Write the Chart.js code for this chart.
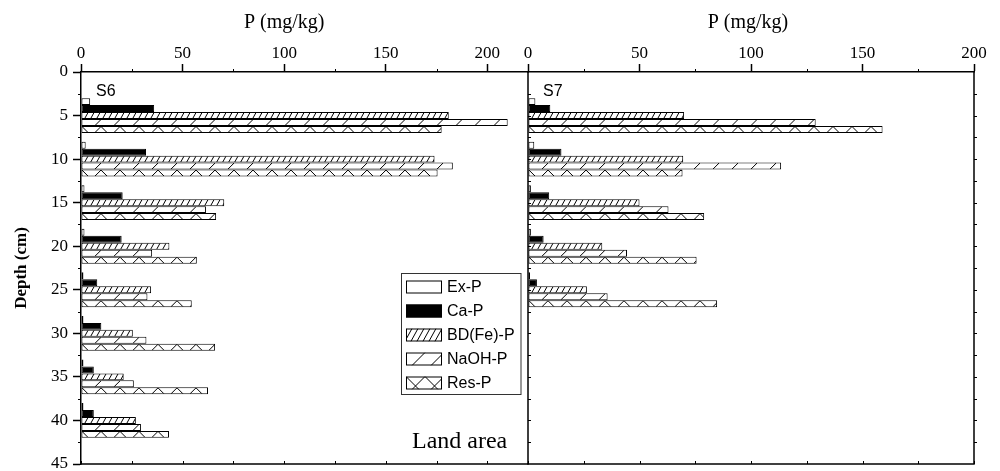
<!DOCTYPE html>
<html>
<head>
<meta charset="utf-8">
<script src="https://cdn.jsdelivr.net/npm/chart.js@4.4.0/dist/chart.umd.min.js"></script>
<style>
  html, body { margin: 0; padding: 0; background: #fff; }
  #wrap { position: relative; width: 1000px; height: 471px; background: #fff; }
  #wrap canvas { position: absolute; left: 0; top: 0; }
</style>
</head>
<body>
<div id="wrap">
  <canvas id="chartS6" width="1000" height="471"></canvas>
  <canvas id="chartS7" width="1000" height="471"></canvas>
</div>
<script>
// Phosphorus fractions (mg/kg) by sampling depth (cm), profiles S6 and S7
const fractions = ['Ex-P', 'Ca-P', 'BD(Fe)-P', 'NaOH-P', 'Res-P'];

const depthsS6 = [5, 10, 15, 20, 25, 30, 35, 40];
const s6ExP   = [4.5, 2.3, 1.7, 1.7, 1.2, 1.2, 1.2, 1.2];
const s6CaP   = [36, 32, 20.5, 20, 8, 10, 6.3, 6.3];
const s6BDFeP = [181, 174, 70.5, 43.5, 34.5, 25.5, 21, 27];
const s6NaOHP = [210, 183, 61.5, 35, 32.7, 32.2, 26, 29.5];
const s6ResP  = [177.5, 175.5, 66.5, 57, 54.5, 66, 62.5, 43.3];

const depthsS7 = [5, 10, 15, 20, 25];
const s7ExP   = [3.3, 2.8, 1.3, 1.3, 0.9];
const s7CaP   = [10, 15, 9.5, 7, 4];
const s7BDFeP = [70, 69.6, 50, 33.3, 26.4];
const s7NaOHP = [129, 113.5, 63, 44.4, 35.7];
const s7ResP  = [159, 69.3, 79, 75.6, 84.8];

const xTickValues = [0, 50, 100, 150, 200];
const depthTickValues = [0, 5, 10, 15, 20, 25, 30, 35, 40, 45];

const axisTitle = 'P (mg/kg)';
const depthTitle = 'Depth (cm)';
const areaNote = 'Land area';

// fill style per fraction
const fills   = ['#ffffff', '#000000', '#ffffff', '#ffffff', '#ffffff'];
const hatches = [null, null, 'dense', 'sparse', 'cross'];

const SERIF = "'Liberation Serif', 'Times New Roman', serif";
const SANS  = "'Liberation Sans', Arial, sans-serif";

function drawHatch(ctx, style, l, t, r, b) {
  const h = b - t;
  if (!style || r - l <= 0 || h <= 0) return;
  ctx.save();
  ctx.beginPath();
  ctx.rect(l, t, r - l, h);
  ctx.clip();
  ctx.strokeStyle = '#000';
  ctx.lineWidth = 1;
  ctx.beginPath();
  if (style === 'dense' || style === 'sparse') {
    const step = style === 'dense' ? 6 : 19;
    const run = style === 'dense' ? h * 0.55 : h;
    for (let sx = l - run; sx < r + step; sx += step) {
      ctx.moveTo(sx, b);
      ctx.lineTo(sx + run, t);
    }
  } else if (style === 'cross') {
    for (let ax = l; ax < r + h + 19; ax += 19) {
      ctx.moveTo(ax - h, b);
      ctx.lineTo(ax, t);
      ctx.lineTo(ax + h, b);
    }
  }
  ctx.stroke();
  ctx.restore();
}

// hatching inside the patterned bars
const hatchPlugin = {
  id: 'hatch',
  afterDatasetsDraw(chart) {
    const ctx = chart.ctx;
    chart.data.datasets.forEach((ds, di) => {
      const style = hatches[di];
      if (!style) return;
      const meta = chart.getDatasetMeta(di);
      meta.data.forEach(el => {
        const p = el.getProps(['x', 'y', 'base', 'height'], true);
        const l = Math.min(p.x, p.base) + 0.5, r = Math.max(p.x, p.base) - 0.5;
        const t = p.y - p.height / 2 + 0.5, b = p.y + p.height / 2 - 0.5;
        drawHatch(ctx, style, l, t, r, b);
      });
    });
  }
};

// axis frame, minor ticks, titles and notes
const framePlugin = {
  id: 'frame',
  afterDraw(chart, args, opts) {
    const { ctx, chartArea: a, scales: { x, y } } = chart;
    ctx.save();
    ctx.strokeStyle = '#000';
    ctx.lineCap = 'butt';

    // bottom axis line with inward ticks
    ctx.lineWidth = 1.5;
    ctx.beginPath();
    ctx.moveTo(a.left - 0.75, a.bottom);
    ctx.lineTo(a.right + 0.75, a.bottom);
    ctx.stroke();

    ctx.lineWidth = 1;
    ctx.beginPath();
    for (let v = 0; v <= x.max + 1e-6; v += 25) {
      const px = Math.round(x.getPixelForValue(v)) + 0.5;
      if (v % 50 !== 0) { ctx.moveTo(px, a.top); ctx.lineTo(px, a.top - 3); }
      ctx.moveTo(px, a.bottom); ctx.lineTo(px, a.bottom - 3);
    }
    if (opts.side === 'left') {
      for (let d = 2.5; d < 45; d += 5) {
        const py = Math.round(y.getPixelForValue(d)) + 0.5;
        ctx.moveTo(a.left, py); ctx.lineTo(a.left - 3, py);
      }
    }
    ctx.stroke();

    if (opts.side === 'right') {
      ctx.lineWidth = 1.5;
      ctx.beginPath();
      ctx.moveTo(a.left, a.top); ctx.lineTo(a.left, a.bottom);
      ctx.moveTo(a.right, a.top); ctx.lineTo(a.right, a.bottom);
      ctx.stroke();
      ctx.lineWidth = 1;
      ctx.beginPath();
      for (let d = 2.5; d < 45; d += 2.5) {
        const py = Math.round(y.getPixelForValue(d)) + 0.5;
        ctx.moveTo(a.left, py); ctx.lineTo(a.left + 3, py);
        ctx.moveTo(a.right, py); ctx.lineTo(a.right + 3, py);
      }
      ctx.stroke();
    }

    // axis title above the tick labels
    ctx.fillStyle = '#000';
    ctx.font = '20px ' + SERIF;
    ctx.textAlign = 'center';
    ctx.textBaseline = 'alphabetic';
    ctx.fillText(axisTitle, x.getPixelForValue(100) + (opts.titleShift || 0), 28);

    // profile name
    ctx.font = '16px ' + SANS;
    ctx.textAlign = 'left';
    ctx.textBaseline = 'middle';
    ctx.fillText(opts.profile, a.left + 15, 92);

    if (opts.side === 'left') {
      drawLegend(ctx);
      ctx.fillStyle = '#000';
      ctx.font = '24px ' + SERIF;
      ctx.textAlign = 'left';
      ctx.textBaseline = 'alphabetic';
      ctx.fillText(areaNote, 412, 448);
    }
    ctx.restore();
  }
};

function drawLegend(ctx) {
  const bx = 401.5, by = 273.5, bw = 119.5, bh = 121;
  ctx.save();
  ctx.fillStyle = '#fff';
  ctx.fillRect(bx, by, bw, bh);
  ctx.strokeStyle = '#333';
  ctx.lineWidth = 1;
  ctx.strokeRect(bx, by, bw, bh);
  const rows = [287, 311, 335, 359, 383];
  fractions.forEach((name, i) => {
    const l = 406, t = rows[i] - 6.5, w = 36, h = 13;
    ctx.fillStyle = fills[i];
    ctx.fillRect(l, t, w, h);
    drawHatch(ctx, hatches[i], l, t, l + w, t + h);
    ctx.strokeStyle = '#000';
    ctx.lineWidth = 1;
    ctx.strokeRect(l + 0.5, t + 0.5, w - 1, h - 1);
    ctx.fillStyle = '#000';
    ctx.font = '16px ' + SANS;
    ctx.textAlign = 'left';
    ctx.textBaseline = 'middle';
    ctx.fillText(name, 447, rows[i] + 1);
  });
  ctx.restore();
}

function makeDatasets(depths, seriesList) {
  return seriesList.map((vals, i) => ({
    label: fractions[i],
    data: depths.map((d, j) => ({ x: vals[j], y: d })),
    backgroundColor: fills[i],
    borderColor: '#000',
    borderWidth: 1,
    borderSkipped: false,
    categoryPercentage: 0.8,
    barPercentage: 1.0
  }));
}

function makeConfig(depths, seriesList, xMax, side, profile) {
  const tickFont = { family: SERIF, size: 17 };
  const isLeft = side === 'left';
  return {
    type: 'bar',
    data: { datasets: makeDatasets(depths, seriesList) },
    options: {
      indexAxis: 'y',
      responsive: false,
      animation: false,
      devicePixelRatio: 1,
      layout: {
        padding: isLeft
          ? { left: 0, right: 472, top: 0, bottom: 7 }
          : { left: 528, right: 26, top: 0, bottom: 7 }
      },
      plugins: {
        legend: { display: false },
        tooltip: { enabled: false },
        frame: { side: side, profile: profile, titleShift: isLeft ? 0 : -3 }
      },
      scales: {
        x: {
          type: 'linear',
          position: 'top',
          min: 0,
          max: xMax,
          offset: false,
          afterBuildTicks: s => { s.ticks = xTickValues.filter(v => v <= xMax).map(v => ({ value: v })); },
          ticks: { font: tickFont, color: '#000', padding: 0, maxRotation: 0, autoSkip: false, includeBounds: false },
          grid: { offset: false, drawOnChartArea: false, drawTicks: true, tickLength: 8, tickColor: '#000', tickWidth: 1.5 },
          border: { display: true, color: '#000', width: 1.5 },
          afterFit: s => { s.height = 72; s.paddingLeft = 0; s.paddingRight = 0; }
        },
        y: {
          type: 'linear',
          reverse: true,
          min: 0,
          max: 45,
          offset: false,
          display: isLeft,
          afterBuildTicks: s => { s.ticks = depthTickValues.map(v => ({ value: v })); },
          ticks: { font: tickFont, color: '#000', padding: 5, autoSkip: false },
          grid: { offset: false, drawOnChartArea: false, drawTicks: true, tickLength: 8, tickColor: '#000', tickWidth: 1.5 },
          border: { display: true, color: '#000', width: 1.5 },
          title: {
            display: true,
            text: depthTitle,
            color: '#000',
            font: { family: SERIF, size: 17, weight: 'bold' },
            padding: { top: 11, bottom: 0 }
          },
          afterFit: s => { s.width = isLeft ? 81 : 0; s.paddingTop = 0; s.paddingBottom = 0; }
        }
      }
    },
    plugins: [hatchPlugin, framePlugin]
  };
}

new Chart(document.getElementById('chartS6'),
  makeConfig(depthsS6, [s6ExP, s6CaP, s6BDFeP, s6NaOHP, s6ResP], 220, 'left', 'S6'));
new Chart(document.getElementById('chartS7'),
  makeConfig(depthsS7, [s7ExP, s7CaP, s7BDFeP, s7NaOHP, s7ResP], 200, 'right', 'S7'));
</script>
</body>
</html>
